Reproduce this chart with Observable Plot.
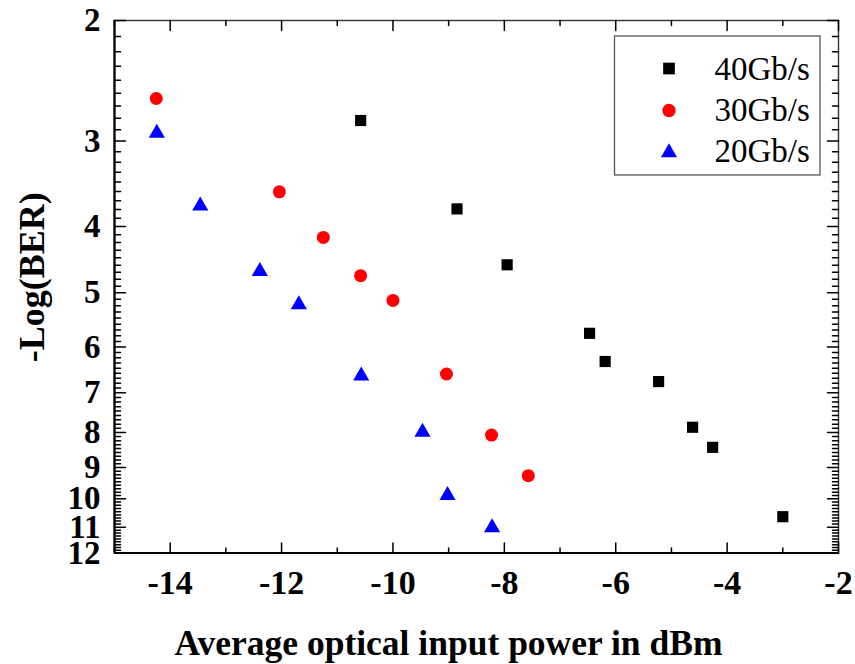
<!DOCTYPE html>
<html>
<head>
<meta charset="utf-8">
<script src="https://cdn.jsdelivr.net/npm/d3@7"></script>
<script src="https://cdn.jsdelivr.net/npm/@observablehq/plot@0.6"></script>
<style>
  body { margin: 0; background: #ffffff; }
  #chart { position: relative; width: 855px; height: 664px; }
</style>
</head>
<body>
<div id="chart"></div>
<script>
// ---- data ----
const seriesNames = ["40Gb/s", "30Gb/s", "20Gb/s"];
const seriesSymbols = ["square", "circle", "triangle"];
const seriesColors = ["#000000", "#ff0000", "#0000ff"];

const power40 = [-10.58, -8.85, -7.95, -6.47, -6.19, -5.23, -4.62, -4.26, -3.00];
const ber40   = [2.80, 3.77, 4.55, 5.73, 6.30, 6.74, 7.86, 8.41, 10.62];

const power30 = [-14.25, -12.04, -11.25, -10.58, -10.00, -9.04, -8.23, -7.57];
const ber30   = [2.60, 3.56, 4.15, 4.72, 5.13, 6.57, 8.07, 9.25];

const power20 = [-14.24, -13.46, -12.39, -11.69, -10.57, -9.47, -9.02, -8.22];
const ber20   = [2.92, 3.73, 4.65, 5.20, 6.61, 7.99, 9.88, 11.02];

const xMajorTicks = [-14, -12, -10, -8, -6, -4, -2];
const xMinorTicks = [-15, -13, -11, -9, -7, -5, -3];
const yMajorTicks = [2, 3, 4, 5, 6, 7, 8, 9, 10, 11, 12];
const yMinorTicks = d3.range(2, 12).flatMap(n => d3.range(1, 9).map(k => n + k / 9));

const xTitle = "Average optical input power in dBm";
const yTitle = "-Log(BER)";

// ---- build tables ----
const rows = (px, py, s) => px.map((x, i) => ({power: x, ber: py[i], series: s}));
const data40 = rows(power40, ber40, seriesNames[0]);
const data30 = rows(power30, ber30, seriesNames[1]);
const data20 = rows(power20, ber20, seriesNames[2]);

const serif = "'Liberation Serif', 'Times New Roman', serif";

// inward tick shape for vectors
const tickShape = {draw(ctx, l) { ctx.moveTo(0, 0); ctx.lineTo(0, -l); }};
const tickX = (values, len, side) => Plot.vector(values, {
  x: d => d, frameAnchor: side, rotate: side === "bottom" ? 0 : 180,
  length: len, anchor: "start", shape: tickShape, stroke: "black", strokeWidth: 1.5
});
const tickY = (values, len, side) => Plot.vector(values, {
  y: d => d, frameAnchor: side, rotate: side === "left" ? 90 : 270,
  length: len, anchor: "start", shape: tickShape, stroke: "black", strokeWidth: 1.5
});

const plot = Plot.plot({
  width: 855,
  height: 664,
  marginLeft: 114,
  marginRight: 17,
  marginTop: 20,
  marginBottom: 111.5,
  style: {fontFamily: serif, color: "black", background: "white"},
  x: {domain: [-15, -2]},
  y: {type: "log", domain: [2, 12], reverse: true},
  marks: [
    Plot.frame({stroke: "#333", strokeWidth: 1.4}),
    Plot.ruleX([-15], {stroke: "black", strokeWidth: 2.2}),
    Plot.ruleY([12], {stroke: "black", strokeWidth: 2.2}),
    tickX(xMajorTicks, 10, "bottom"),
    tickX(xMinorTicks, 5, "bottom"),
    tickX(xMajorTicks, 10, "top"),
    tickX(xMinorTicks, 5, "top"),
    tickY(yMajorTicks, 11, "left"),
    tickY(yMinorTicks, 6, "left"),
    tickY(yMajorTicks, 11, "right"),
    tickY(yMinorTicks, 6, "right"),
    Plot.axisX({ticks: xMajorTicks, tickSize: 0, tickPadding: 17, tickFormat: d => String(d),
      label: null, fontSize: 34, fontWeight: "bold", fontFamily: serif}),
    Plot.axisY({ticks: yMajorTicks, tickSize: 0, tickPadding: 14, tickFormat: d => String(d),
      label: null, fontSize: 33, fontWeight: "bold", fontFamily: serif}),
    Plot.text([xTitle], {text: d => d, frameAnchor: "bottom", textAnchor: "middle", lineAnchor: "middle",
      dx: -28, dy: 91, fontSize: 35.5, fontWeight: "bold", fontFamily: serif, fill: "black"}),
    Plot.text([yTitle], {text: d => d, frameAnchor: "left", textAnchor: "middle", lineAnchor: "middle",
      rotate: -90, dx: -82.5, dy: -9.5, fontSize: 36, fontWeight: "bold", fontFamily: serif, fill: "black"}),
    Plot.dot(data40, {x: "power", y: "ber", symbol: seriesSymbols[0], fill: seriesColors[0], r: 6.3}),
    Plot.dot(data30, {x: "power", y: "ber", symbol: seriesSymbols[1], fill: seriesColors[1], r: 6.5}),
    Plot.dot(data20, {x: "power", y: "ber", symbol: seriesSymbols[2], fill: seriesColors[2], r: 6})
  ]
});

document.getElementById("chart").appendChild(plot);

// ---- legend box inside the frame ----
const svg = d3.select(plot);
const lg = svg.append("g").attr("class", "legend").attr("text-anchor", "start");
lg.append("rect")
  .attr("x", 614.5).attr("y", 36).attr("width", 205.5).attr("height", 139)
  .attr("fill", "white").attr("stroke", "#555").attr("stroke-width", 1.3);
const d3Symbols = {square: d3.symbolSquare, circle: d3.symbolCircle, triangle: d3.symbolTriangle};
const legendSizes = [137, 140, 113];
const symbolY = [68.5, 110.5, 152.5];
const textY = [80, 121, 162];
seriesNames.forEach((name, i) => {
  lg.append("path")
    .attr("transform", `translate(669,${symbolY[i]})`)
    .attr("d", d3.symbol(d3Symbols[seriesSymbols[i]], legendSizes[i])())
    .attr("fill", seriesColors[i]);
  lg.append("text")
    .attr("x", 714.5).attr("y", textY[i])
    .attr("text-anchor", "start")
    .attr("font-family", serif).attr("font-size", 33).attr("fill", "black")
    .text(name);
});
</script>
</body>
</html>
